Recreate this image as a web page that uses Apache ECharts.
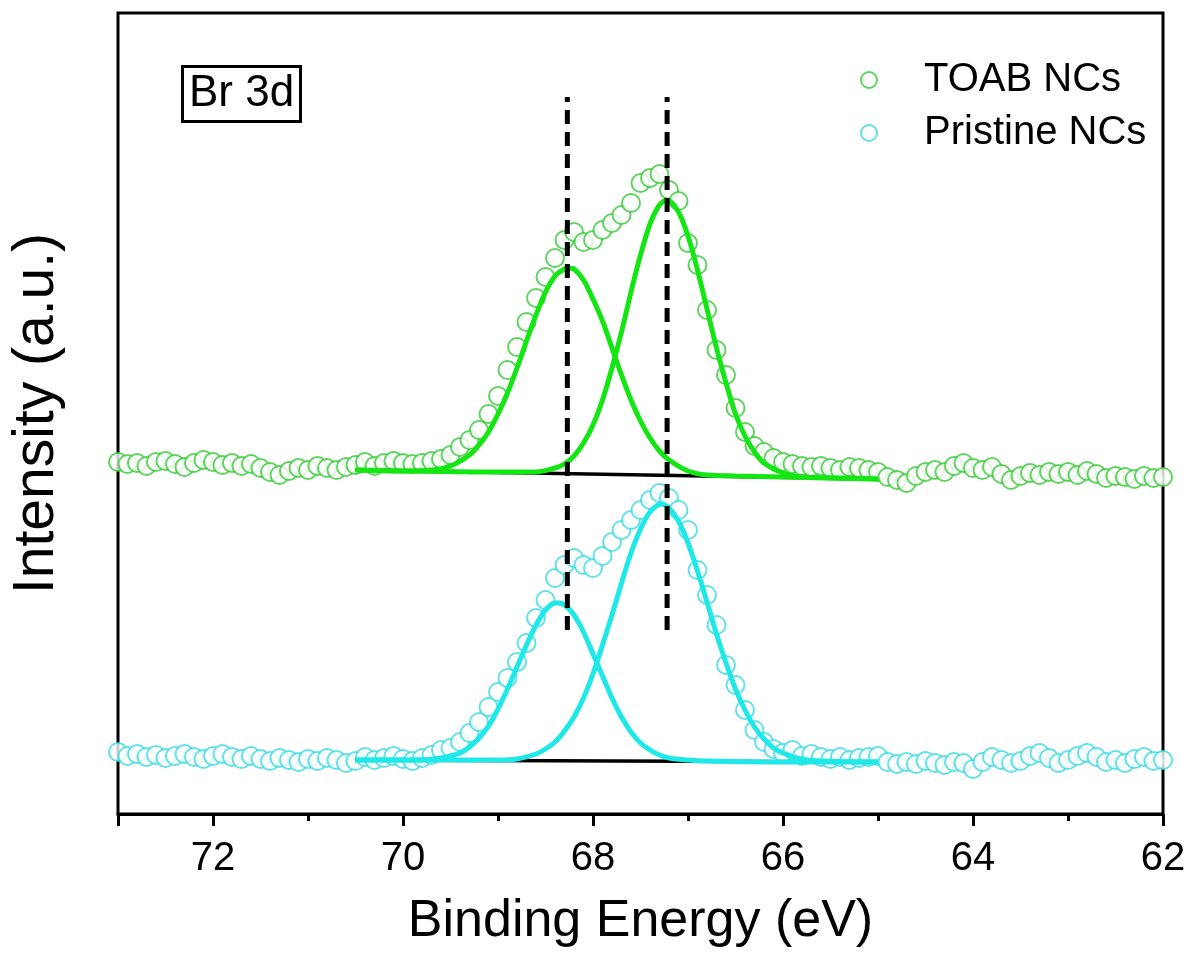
<!DOCTYPE html>
<html><head><meta charset="utf-8">
<script src="https://cdn.jsdelivr.net/npm/echarts@6/dist/echarts.min.js"></script>
<style>html,body{margin:0;padding:0;background:#fff}#c{width:1192px;height:963px}</style>
</head><body><div id="c"></div>
<script>
// Binding energies (eV) of the measured points
const energies = [
73.0,72.9,72.8,72.7,72.6,72.5,72.4,72.3,72.2,72.1,
72.0,71.9,71.8,71.7,71.6,71.5,71.4,71.3,71.2,71.1,
71.0,70.9,70.8,70.7,70.6,70.5,70.4,70.3,70.2,70.1,
70.0,69.9,69.8,69.7,69.6,69.5,69.4,69.3,69.2,69.1,
69.0,68.9,68.8,68.7,68.6,68.5,68.4,68.3,68.2,68.1,
68.0,67.9,67.8,67.7,67.6,67.5,67.4,67.3,67.2,67.1,
67.0,66.9,66.8,66.7,66.6,66.5,66.4,66.3,66.2,66.1,
66.0,65.9,65.8,65.7,65.6,65.5,65.4,65.3,65.2,65.1,
65.0,64.9,64.8,64.7,64.6,64.5,64.4,64.3,64.2,64.1,
64.0,63.9,63.8,63.7,63.6,63.5,63.4,63.3,63.2,63.1,
63.0,62.9,62.8,62.7,62.6,62.5,62.4,62.3,62.2,62.1,
62.0];

// Measured intensities (a.u., stacked offset) - TOAB NCs
const toabNCs = [
352,350,351,348,352,353,350,347,351,354,
352,349,351,348,350,346,342,339,343,346,
344,348,346,344,347,349,352,348,351,353,
351,350,351,353,355,359,367,374,384,400,
418,444,467,492,516,537,556,574,582,572,
574,584,591,599,611,631,636,640,624,613,
571,549,504,464,439,406,382,368,362,356,
352,350,348,347,348,346,344,347,346,344,
342,337,334,331,338,342,344,342,348,351,
346,344,347,340,334,338,341,339,342,340,
342,339,343,340,336,338,337,335,338,336,
337];

// Measured intensities - Pristine NCs
const pristineNCs = [
62,58,60,57,59,56,58,60,57,55,
58,60,57,55,58,55,53,56,54,52,
55,53,56,54,51,53,57,54,56,58,
55,53,56,59,64,66,72,81,92,107,
122,136,152,171,196,214,236,249,256,249,
246,258,272,284,294,304,314,321,316,304,
284,244,219,189,149,129,104,84,72,65,
61,64,58,60,57,55,57,54,56,57,
58,52,50,52,50,53,51,49,52,51,
45,52,57,54,51,53,58,61,56,51,
54,58,61,57,52,54,51,55,57,53,
54];

// Fit curves [energy, intensity]
const toabBaseline = [[70.5,344],[65.0,335]];
const toabFit1 = [[70.5,344],[70.0,343],[69.7,344],[69.5,348],[69.3,359],[69.2,369],[69.1,382],[69.0,400],[68.9,421],[68.8,446],[68.7,473],[68.6,499],[68.5,522],[68.4,538],[68.3,545],[68.26,546],[68.2,545],[68.1,534],[68.0,515],[67.9,493],[67.8,466],[67.7,439],[67.6,414],[67.5,393],[67.4,376],[67.3,363],[67.2,354],[67.0,343],[66.8,339],[66.5,338],[66.0,337],[65.0,335]];
const toabFit2 = [[70.5,344],[69.0,342],[68.6,342],[68.4,346],[68.3,350],[68.2,358],[68.1,371],[68.0,389],[67.9,414],[67.8,446],[67.7,482],[67.6,522],[67.5,559],[67.4,590],[67.3,609],[67.22,614],[67.1,602],[67.0,578],[66.9,544],[66.8,505],[66.7,466],[66.6,431],[66.5,400],[66.4,378],[66.3,362],[66.2,351],[66.0,341],[65.8,337],[65.5,336],[65.0,335]];
const pristineBaseline = [[70.5,54],[65.0,52]];
const pristineFit1 = [[70.5,54],[70.0,54],[69.8,54],[69.6,56],[69.5,58],[69.4,61],[69.3,67],[69.2,76],[69.1,88],[69.0,105],[68.9,125],[68.8,147],[68.7,169],[68.6,189],[68.5,204],[68.4,211],[68.37,211],[68.3,209],[68.2,199],[68.1,182],[68.0,160],[67.9,138],[67.8,116],[67.7,97],[67.6,82],[67.5,71],[67.4,64],[67.3,59],[67.2,56],[67.0,54],[66.8,53],[66.0,52],[65.0,52]];
const pristineFit2 = [[70.5,54],[69.5,54],[69.0,54],[68.8,55],[68.6,60],[68.5,65],[68.4,72],[68.3,83],[68.2,97],[68.1,116],[68.0,140],[67.9,169],[67.8,199],[67.7,231],[67.6,261],[67.5,285],[67.4,302],[67.28,310],[67.2,306],[67.1,293],[67.0,271],[66.9,243],[66.8,212],[66.7,180],[66.6,151],[66.5,125],[66.4,104],[66.3,87],[66.2,75],[66.1,66],[66.0,61],[65.8,55],[65.6,53],[65.0,52]];

// Reference (dashed) peak positions and their vertical extent
const peakPositions = [68.27, 67.22];
const peakLineSpan = [184, 717];

const seriesNames = ['TOAB NCs', 'Pristine NCs'];
const GREEN_PT = '#38c838', GREEN_LN = '#14e614';
const CYAN_PT = '#3cdae2', CYAN_LN = '#1ee8e8';
const FONT = "'Liberation Sans', Arial, sans-serif";

const pairs = ys => energies.map((e, i) => [e, ys[i]]);
const fitLine = (data, color, width) => ({
  type: 'line', data, symbol: 'none', smooth: 0.3, silent: true, z: 3,
  lineStyle: { color, width }
});
const scatter = (name, ys, color) => ({
  type: 'scatter', name, data: pairs(ys), symbol: 'circle', symbolSize: 18, z: 2,
  itemStyle: { color: '#fff', borderColor: color, borderWidth: 2 }
});

const series = [
  scatter(seriesNames[0], toabNCs, GREEN_PT),
  scatter(seriesNames[1], pristineNCs, CYAN_PT),
  fitLine(toabBaseline, '#000', 3.5),
  fitLine(pristineBaseline, '#000', 3.5),
  fitLine(toabFit1, GREEN_LN, 5),
  fitLine(toabFit2, GREEN_LN, 5),
  fitLine(pristineFit1, CYAN_LN, 5),
  fitLine(pristineFit2, CYAN_LN, 5)
];
peakPositions.forEach(p => series.push({
  type: 'line', data: [[p, peakLineSpan[0]], [p, peakLineSpan[1]]], symbol: 'none', silent: true, z: 5,
  lineStyle: { color: '#000', width: 5, type: [14, 8] }
}));

const chart = echarts.init(document.getElementById('c'));
chart.setOption({
  animation: false,
  backgroundColor: '#fff',
  title: {
    text: 'Br 3d', left: 182, top: 66, borderColor: '#000', borderWidth: 3, padding: [5, 7],
    textStyle: { fontFamily: FONT, fontSize: 44, fontWeight: 'normal', color: '#000', lineHeight: 46 }
  },
  legend: {
    orient: 'vertical', left: 855, top: 55, itemWidth: 16, itemHeight: 16, itemGap: 13,
    data: [
      { name: seriesNames[0], icon: 'circle', itemStyle: { color: '#fff', borderColor: GREEN_PT, borderWidth: 2 } },
      { name: seriesNames[1], icon: 'circle', itemStyle: { color: '#fff', borderColor: CYAN_PT, borderWidth: 2 } }
    ],
    textStyle: { fontFamily: FONT, fontSize: 40, color: '#000', lineHeight: 40, padding: [0, 0, 0, 42] }
  },
  grid: { left: 118, right: 29, top: 13, bottom: 149, show: true, borderColor: '#000', borderWidth: 3 },
  xAxis: {
    type: 'value', min: 62, max: 73, interval: 2, inverse: true,
    name: 'Binding Energy (eV)', nameLocation: 'middle', nameGap: 82,
    nameTextStyle: { fontFamily: FONT, fontSize: 52, color: '#000' },
    axisLine: { show: true, lineStyle: { color: '#000', width: 3 } },
    axisTick: { show: true, length: 12, lineStyle: { color: '#000', width: 3 } },
    minorTick: { show: true, splitNumber: 2, length: 7, lineStyle: { color: '#000', width: 3 } },
    axisLabel: { fontFamily: FONT, fontSize: 40, color: '#000', margin: 25, showMaxLabel: false },
    splitLine: { show: false }
  },
  yAxis: {
    type: 'value', min: 0, max: 801,
    name: 'Intensity (a.u.)', nameLocation: 'middle', nameGap: 52, nameRotate: 90,
    nameTextStyle: { fontFamily: FONT, fontSize: 57, color: '#000' },
    axisLine: { show: false }, axisTick: { show: false }, axisLabel: { show: false },
    splitLine: { show: false }
  },
  series
});
</script></body></html>
